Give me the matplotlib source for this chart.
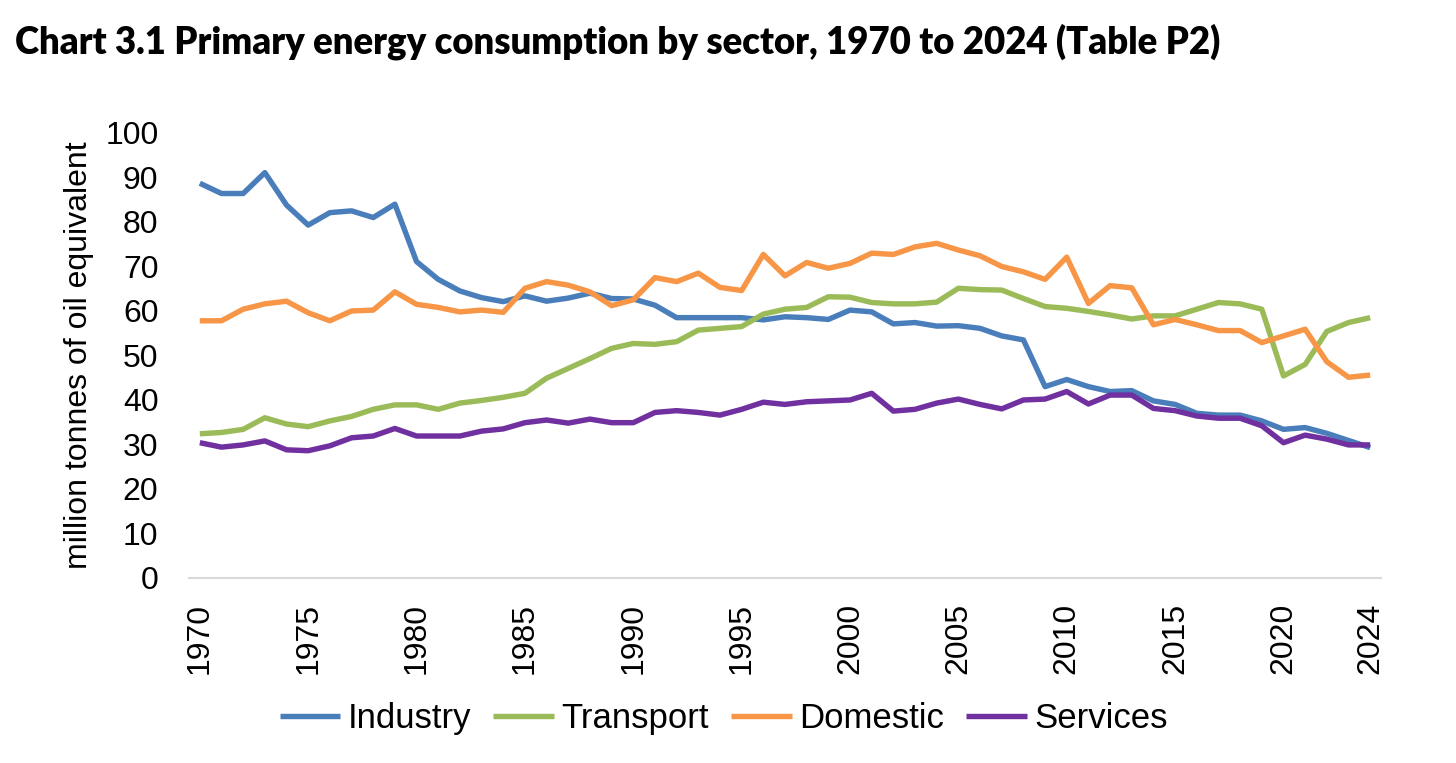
import matplotlib.pyplot as plt
import numpy as np

# values (million tonnes of oil equivalent)
years = list(range(1970, 2025))

industry = [88.7, 86.4, 86.4, 91.1, 83.8, 79.3, 82.1, 82.5, 81.0, 84.0,
            71.1, 67.1, 64.5, 63.0, 62.1, 63.4, 62.2, 62.9, 64.0, 62.8,
            62.7, 61.3, 58.5, 58.5, 58.5, 58.5, 58.0, 58.7, 58.5, 58.1,
            60.2, 59.8, 57.1, 57.4, 56.6, 56.7, 56.1, 54.4, 53.5, 43.0,
            44.6, 43.0, 41.9, 42.1, 39.8, 39.0, 37.0, 36.6, 36.6, 35.3,
            33.4, 33.8, 32.5, 30.9, 29.3]

transport = [32.4, 32.7, 33.4, 36.0, 34.6, 34.0, 35.3, 36.3, 37.9, 38.9,
             38.9, 37.9, 39.3, 39.9, 40.6, 41.5, 44.9, 47.1, 49.3, 51.6,
             52.7, 52.5, 53.1, 55.7, 56.1, 56.5, 59.3, 60.4, 60.8, 63.2,
             63.1, 61.9, 61.6, 61.6, 62.0, 65.1, 64.8, 64.7, 62.8, 61.0,
             60.6, 59.9, 59.1, 58.2, 58.9, 58.9, 60.4, 61.9, 61.6, 60.4,
             45.4, 48.0, 55.4, 57.4, 58.5]

domestic = [57.8, 57.8, 60.4, 61.6, 62.2, 59.6, 57.8, 60.0, 60.2, 64.3,
            61.5, 60.8, 59.8, 60.2, 59.7, 65.1, 66.6, 65.8, 64.3, 61.2,
            62.5, 67.5, 66.6, 68.5, 65.3, 64.6, 72.7, 67.9, 70.9, 69.6,
            70.7, 73.0, 72.7, 74.4, 75.2, 73.7, 72.4, 70.0, 68.8, 67.1,
            72.1, 61.7, 65.7, 65.2, 56.9, 58.1, 56.9, 55.6, 55.6, 52.9,
            54.4, 55.9, 48.6, 45.1, 45.6]

services = [30.4, 29.4, 29.9, 30.8, 28.8, 28.6, 29.7, 31.5, 31.9, 33.6,
            31.9, 31.9, 31.9, 33.0, 33.5, 34.9, 35.5, 34.8, 35.7, 34.9,
            34.9, 37.2, 37.6, 37.2, 36.6, 37.9, 39.5, 39.0, 39.6, 39.8,
            40.0, 41.5, 37.5, 37.9, 39.3, 40.2, 39.0, 38.0, 40.0, 40.2,
            41.9, 39.1, 41.1, 41.1, 38.1, 37.6, 36.4, 35.9, 35.9, 34.2,
            30.4, 32.1, 31.2, 29.9, 29.9]

tick_years = [1970, 1975, 1980, 1985, 1990, 1995, 2000, 2005, 2010, 2015, 2020, 2024]

series = [
    ("Industry", industry, "#4A7EBB"),
    ("Transport", transport, "#9BBB59"),
    ("Domestic", domestic, "#F79646"),
    ("Services", services, "#7030A0"),
]

plt.rcParams["font.family"] = ["Liberation Sans", "DejaVu Sans"]

fig = plt.figure(figsize=(14.56, 7.63), dpi=100)
ax = fig.add_axes([0.1298, 0.2425, 0.8187, 0.5832])

for name, vals, col in series:
    ax.plot(years, vals, color=col, lw=3.9, label=name,
            solid_joinstyle="round", solid_capstyle="butt")

ax.set_xlim(1969.5, 2024.5)
ax.set_ylim(0, 100)
ax.set_yticks(np.arange(0, 101, 10))
ax.set_xticks(tick_years)
ax.set_xticklabels([str(y) for y in tick_years], rotation=90)
ax.tick_params(axis="both", length=0, labelsize=23)
ax.tick_params(axis="x", pad=18)
ax.tick_params(axis="y", pad=22)

for s in ("top", "right", "left"):
    ax.spines[s].set_visible(False)
ax.spines["bottom"].set_color("#D9D9D9")
ax.spines["bottom"].set_linewidth(1.5)

ax.set_ylabel("million tonnes of oil equivalent", fontsize=23, labelpad=8)

fig.text(0.010, 0.945, "Chart 3.1 Primary energy consumption by sector, 1970 to 2024 (Table P2)",
         fontsize=26.3, fontweight="heavy", family=["Lato", "DejaVu Sans"], va="center")

fig.legend(loc="center", bbox_to_anchor=(0.497, 0.058), ncol=4, frameon=False,
           fontsize=25, handlelength=1.75, handletextpad=0.2, columnspacing=0.65)

fig.savefig("out.png", dpi=100)
